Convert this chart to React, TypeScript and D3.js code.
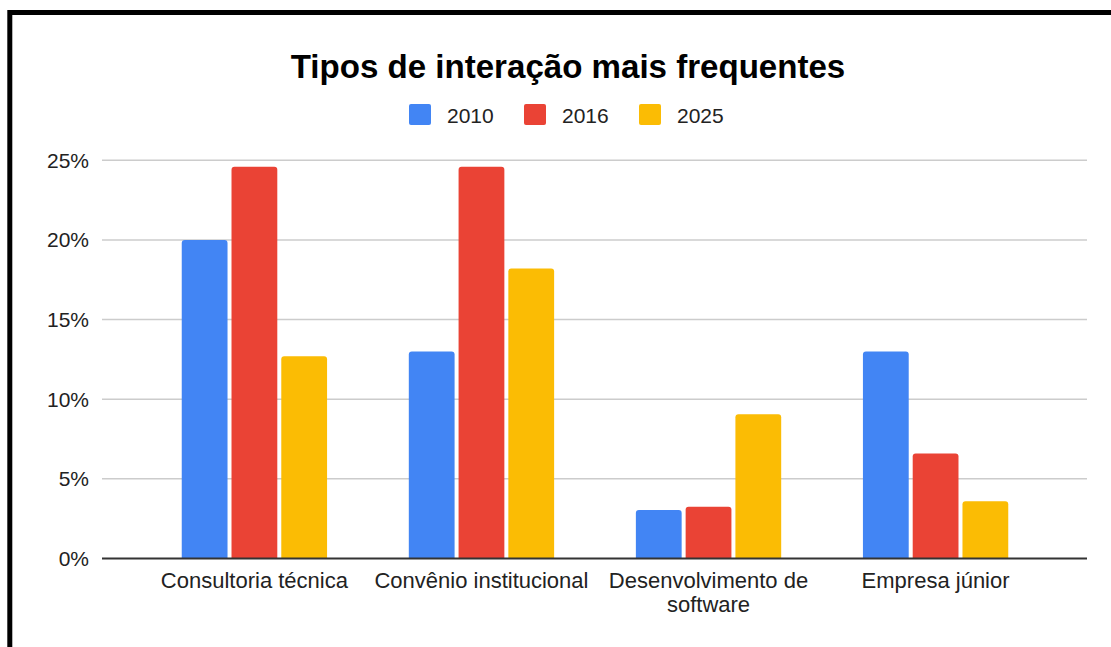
import React from "react";
import * as d3 from "d3";

const categories = [
  "Consultoria técnica",
  "Convênio institucional",
  "Desenvolvimento de software",
  "Empresa júnior",
];
const seriesNames = ["2010", "2016", "2025"];
const values2010 = [20.0, 13.0, 3.05, 13.0];
const values2016 = [24.6, 24.6, 3.25, 6.6];
const values2025 = [12.7, 18.2, 9.05, 3.6];
const yTicks = [0, 5, 10, 15, 20, 25];
const colors = ["#4285F4", "#EA4335", "#FBBC04"];

const W = 1111;
const H = 647;
const FONT = "'Liberation Sans', Arial, sans-serif";

function measure(text: string, size: number, weight = "normal") {
  if (typeof document === "undefined") return text.length * size * 0.5;
  const c = document.createElement("canvas");
  const ctx = c.getContext("2d")!;
  ctx.font = `${weight} ${size}px ${FONT}`;
  return ctx.measureText(text).width;
}

function wrap(text: string, maxW: number, size: number) {
  const words = text.split(" ");
  const lines: string[] = [];
  let cur = "";
  for (const w of words) {
    const t = cur ? cur + " " + w : w;
    if (measure(t, size) > maxW && cur) {
      lines.push(cur);
      cur = w;
    } else cur = t;
  }
  if (cur) lines.push(cur);
  return lines;
}

function topRounded(x: number, y: number, w: number, h: number, r: number) {
  const rr = Math.min(r, h, w / 2);
  return `M${x},${y + h}V${y + rr}Q${x},${y} ${x + rr},${y}H${x + w - rr}Q${x + w},${y} ${x + w},${y + rr}V${y + h}Z`;
}

export default function App() {
  const series = [values2010, values2016, values2025];
  const x0 = d3.scaleBand<string>().domain(categories).range([100, 1090]).paddingInner(0.36).paddingOuter(0.36);
  const x1 = d3.scaleBand<string>().domain(seriesNames).range([0, x0.bandwidth()]).paddingInner(0.08).paddingOuter(0);
  const y = d3.scaleLinear().domain([0, 25]).range([558.5, 160.3]);

  const labelSize = 21;
  const xLabelSize = 22;
  const legendItems = [
    { name: seriesNames[0], x: 409 },
    { name: seriesNames[1], x: 524 },
    { name: seriesNames[2], x: 639 },
  ];

  return (
    <svg width={W} height={H} style={{ position: "absolute", left: 0, top: 0, background: "#fff" }} fontFamily={FONT}>
      <rect x={0} y={0} width={W} height={H} fill="#fff" />
      <text x={568} y={78} textAnchor="middle" fontSize={33.1} fontWeight="bold" fill="#000">
        Tipos de interação mais frequentes
      </text>
      {legendItems.map((it, i) => (
        <g key={it.name}>
          <rect x={it.x} y={104} width={22} height={21} rx={2} fill={colors[i]} />
          <text x={it.x + 38} y={122.5} fontSize={labelSize} fill="#222">
            {it.name}
          </text>
        </g>
      ))}
      {yTicks.map((t) => (
        <g key={t}>
          {t !== 0 && <line x1={102} x2={1087} y1={y(t)} y2={y(t)} stroke="#cccccc" strokeWidth={1.5} />}
          <text x={89} y={y(t) + 7.5} textAnchor="end" fontSize={labelSize} fill="#222">
            {t}%
          </text>
        </g>
      ))}
      {categories.map((c, ci) => (
        <g key={c} transform={`translate(${x0(c)},0)`}>
          {seriesNames.map((s, si) => {
            const v = series[si][ci];
            const top = y(v);
            return (
              <path
                key={s}
                d={topRounded(x1(s)!, top, x1.bandwidth(), y(0) - top, 3)}
                fill={colors[si]}
              />
            );
          })}
        </g>
      ))}
      <line x1={102} x2={1087} y1={y(0)} y2={y(0)} stroke="#333333" strokeWidth={2} />
      {categories.map((c) => {
        const lines = wrap(c, x0.step(), xLabelSize);
        const cx = x0(c)! + x0.bandwidth() / 2;
        return (
          <text key={c} x={cx} textAnchor="middle" fontSize={xLabelSize} fill="#222">
            {lines.map((l, i) => (
              <tspan key={i} x={cx} y={588 + i * 23.5}>
                {l}
              </tspan>
            ))}
          </text>
        );
      })}
      <rect x={9.8} y={12.5} width={W + 20} height={H + 20} fill="none" stroke="#000" strokeWidth={5} />
    </svg>
  );
}
